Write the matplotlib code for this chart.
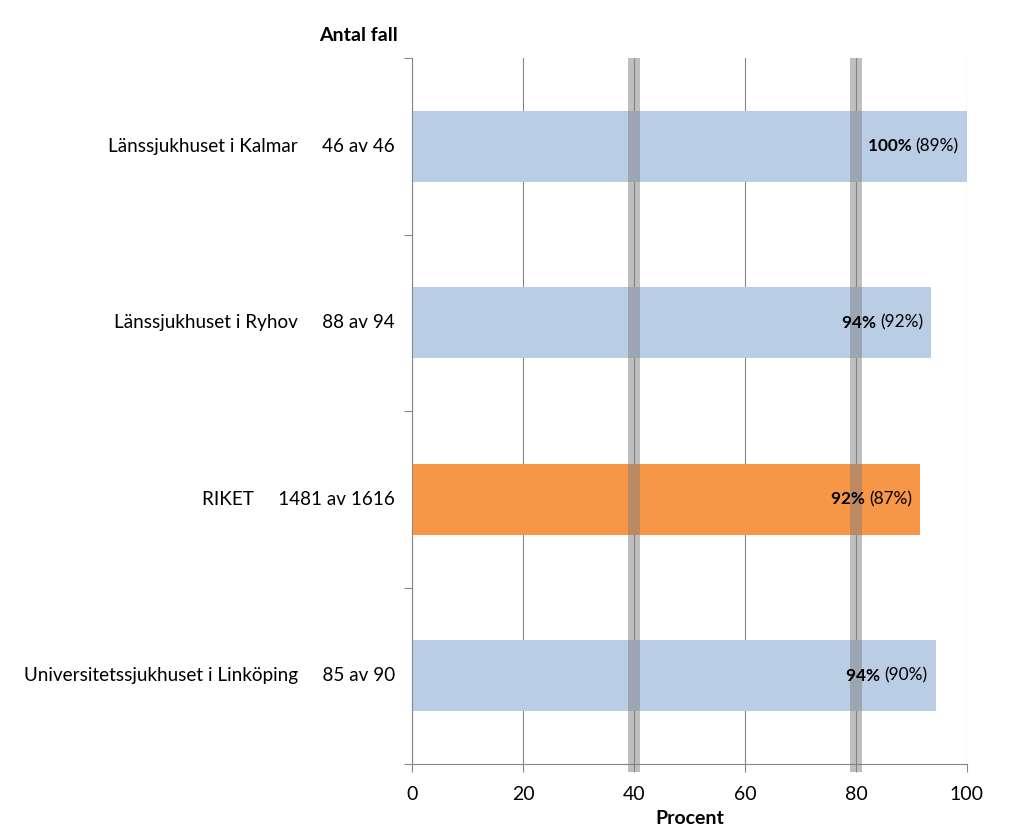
import matplotlib.pyplot as plt

plt.rcParams['font.family'] = ['Lato', 'DejaVu Sans']

hospitals = ['Länssjukhuset i Kalmar', 'Länssjukhuset i Ryhov', 'RIKET',
             'Universitetssjukhuset i Linköping']
counts = ['46 av 46', '88 av 94', '1481 av 1616', '85 av 90']
values = [100, 93.6, 91.6, 94.4]
pct_labels = ['100%', '94%', '92%', '94%']
prev_labels = ['(89%)', '(92%)', '(87%)', '(90%)']
colors = ['#B9CDE5', '#B9CDE5', '#F79646', '#B9CDE5']
limits = [40, 80]

fig = plt.figure(figsize=(10.24, 8.36), dpi=100)
ax = fig.add_axes([0.4023, 0.0861, 0.5420, 0.8445])

ypos = list(range(len(hospitals)))
ax.barh(ypos, values, height=0.4, color=colors, zorder=2)
ax.set_ylim(len(hospitals) - 0.5, -0.5)
ax.set_xlim(0, 100)
ax.set_xticks([0, 20, 40, 60, 80, 100])
ax.tick_params(axis='x', labelsize=14, length=6, color='#868686', pad=10)
ax.set_yticks([i - 0.5 for i in range(len(hospitals) + 1)])
ax.set_yticklabels([])
ax.tick_params(axis='y', length=6, color='#868686')
ax.grid(axis='x', color='#868686', linewidth=0.8, zorder=0)
ax.set_axisbelow(True)
for s in ['top', 'right']:
    ax.spines[s].set_visible(False)
for s in ['left', 'bottom']:
    ax.spines[s].set_color('#868686')
ax.set_xlabel('Procent', fontsize=14, fontweight='bold', labelpad=5)

for lim in limits:
    ax.axvspan(lim - 1, lim + 1, ymin=-0.011, ymax=1, color='#808080', alpha=0.5,
               linewidth=0, zorder=3, clip_on=False)

trans = ax.get_yaxis_transform()
for i, (name, cnt) in enumerate(zip(hospitals, counts)):
    ax.text(-0.031, i, name + '     ' + cnt, transform=trans, ha='right', va='center',
            fontsize=13.6)
ax.text(-0.097, 1.02, 'Antal fall', transform=ax.transAxes, ha='center', va='bottom',
        fontsize=14, fontweight='bold')

for i, v in enumerate(values):
    t = ax.text(v - 1.5, i, prev_labels[i], ha='right', va='center', fontsize=12.4, zorder=4)
    ax.annotate(pct_labels[i] + ' ', xy=(0, 0.5), xycoords=t, ha='right', va='center',
                fontsize=12.4, fontweight='bold', zorder=4)

fig.savefig('out.png', dpi=100)
